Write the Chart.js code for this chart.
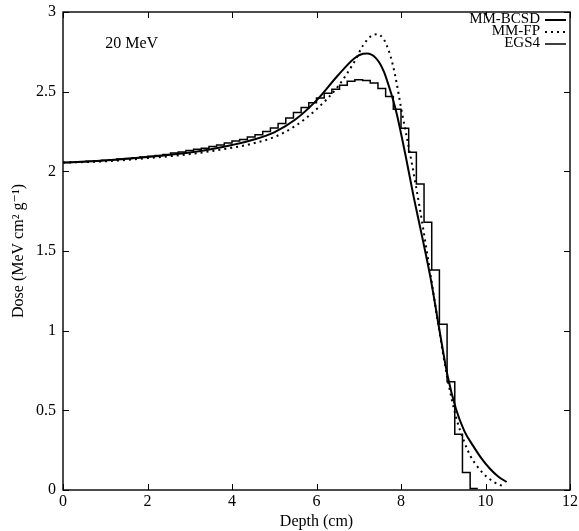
<!DOCTYPE html>
<html>
<head>
<meta charset="utf-8">
<script src="https://cdn.jsdelivr.net/npm/chart.js@4"></script>
<style>
  html, body { margin: 0; padding: 0; background: #fff; }
</style>
</head>
<body>
<canvas id="chart" width="579" height="531"></canvas>
<script>
// MM-BCSD (solid)
const depthBCSD = [0, 1, 2, 3, 3.5, 4, 4.5, 5, 5.5, 6, 6.5, 6.9, 7.1, 7.2, 7.3, 7.4, 7.5, 7.6, 7.7, 7.8, 7.9, 8.1, 8.3, 8.5, 8.7, 8.9, 9.1, 9.3, 9.5, 9.7, 9.9, 10.1, 10.3, 10.5];
const doseBCSD = [2.055, 2.068, 2.09, 2.118, 2.138, 2.165, 2.198, 2.245, 2.325, 2.445, 2.6, 2.71, 2.738, 2.74, 2.732, 2.712, 2.677, 2.622, 2.545, 2.46, 2.36, 2.11, 1.84, 1.59, 1.33, 1.02, 0.72, 0.51, 0.37, 0.28, 0.20, 0.135, 0.085, 0.05];

// MM-FP (dotted)
const depthFP = [0, 1, 2, 3, 4, 4.5, 5, 5.5, 6, 6.5, 6.9, 7.1, 7.3, 7.45, 7.6, 7.7, 7.8, 7.9, 8.0, 8.25, 8.45, 8.7, 8.9, 9.1, 9.3, 9.5, 9.65, 9.8, 10.0, 10.2, 10.45];
const doseFP = [2.055, 2.063, 2.083, 2.108, 2.148, 2.175, 2.215, 2.285, 2.39, 2.53, 2.69, 2.79, 2.85, 2.86, 2.825, 2.765, 2.675, 2.55, 2.40, 2.06, 1.76, 1.35, 1.01, 0.70, 0.46, 0.30, 0.21, 0.15, 0.09, 0.05, 0.02];

// EGS4 histogram, one value per depth bin
const egsBinWidth = 2 / 11;
const doseEGS4 = [
  2.055, 2.057, 2.06, 2.063, 2.066, 2.07, 2.073, 2.077, 2.08, 2.085,
  2.09, 2.095, 2.10, 2.106, 2.115, 2.121, 2.13, 2.138, 2.145, 2.156,
  2.165, 2.178, 2.19, 2.20, 2.216, 2.23, 2.25, 2.272, 2.30, 2.335,
  2.37, 2.40, 2.43, 2.46, 2.49, 2.515, 2.54, 2.565, 2.575, 2.57,
  2.555, 2.52, 2.47, 2.39, 2.27, 2.12, 1.92, 1.68, 1.38, 1.04,
  0.68, 0.35, 0.11, 0.01
];

const xTicks = [0, 2, 4, 6, 8, 10, 12];
const yTicks = [0, 0.5, 1, 1.5, 2, 2.5, 3];

const serif = '"Liberation Serif", "DejaVu Serif", serif';

const bcsdPoints = depthBCSD.map((d, i) => ({ x: d, y: doseBCSD[i] }));
const fpPoints = depthFP.map((d, i) => ({ x: d, y: doseFP[i] }));
const egsPoints = doseEGS4.map((v, i) => ({ x: i * egsBinWidth, y: v }));
egsPoints.push({ x: doseEGS4.length * egsBinWidth, y: doseEGS4[doseEGS4.length - 1] });

// frame, inward tick marks, legend and energy label
const decorations = {
  id: 'decorations',
  afterDatasetsDraw(chart) {
    const { ctx, chartArea: a, scales: { x, y } } = chart;
    ctx.save();
    ctx.strokeStyle = '#000';
    ctx.lineWidth = 1.4;
    ctx.strokeRect(a.left, a.top, a.right - a.left, a.bottom - a.top);

    ctx.lineWidth = 1;
    const len = 6;
    ctx.beginPath();
    xTicks.forEach(v => {
      const px = Math.round(x.getPixelForValue(v)) + 0.5;
      ctx.moveTo(px, a.bottom); ctx.lineTo(px, a.bottom - len);
      ctx.moveTo(px, a.top); ctx.lineTo(px, a.top + len);
    });
    yTicks.forEach(v => {
      const py = Math.round(y.getPixelForValue(v)) + 0.5;
      ctx.moveTo(a.left, py); ctx.lineTo(a.left + len, py);
      ctx.moveTo(a.right, py); ctx.lineTo(a.right - len, py);
    });
    ctx.stroke();

    // legend
    ctx.font = '15px ' + serif;
    ctx.fillStyle = '#000';
    ctx.textAlign = 'right';
    ctx.textBaseline = 'middle';
    const textRight = a.right - 30;
    chart.data.datasets.forEach((ds, i) => {
      const ly = a.top + 7 + i * 12;
      ctx.fillText(ds.label, textRight, ly);
      ctx.beginPath();
      ctx.lineWidth = ds.borderWidth;
      ctx.setLineDash(ds.borderDash || []);
      ctx.moveTo(textRight + 5, ly + 1);
      ctx.lineTo(a.right - 4, ly + 1);
      ctx.stroke();
    });
    ctx.setLineDash([]);

    ctx.textAlign = 'left';
    ctx.font = '16px ' + serif;
    ctx.fillText('20 MeV', x.getPixelForValue(1), y.getPixelForValue(2.8));
    ctx.restore();
  }
};

new Chart(document.getElementById('chart'), {
  type: 'line',
  data: {
    datasets: [
      {
        label: 'MM-BCSD',
        data: bcsdPoints,
        borderColor: '#000',
        borderWidth: 2,
        pointRadius: 0,
        fill: false,
        cubicInterpolationMode: 'monotone',
      },
      {
        label: 'MM-FP',
        data: fpPoints,
        borderColor: '#000',
        borderWidth: 2,
        borderDash: [2, 4],
        pointRadius: 0,
        fill: false,
        cubicInterpolationMode: 'monotone',
      },
      {
        label: 'EGS4',
        data: egsPoints,
        borderColor: '#000',
        borderWidth: 1.5,
        stepped: 'before',
        pointRadius: 0,
        fill: false,
      },
    ],
  },
  options: {
    responsive: false,
    animation: false,
    devicePixelRatio: 1,
    layout: { padding: { left: 0, right: 9, top: 12, bottom: 0 } },
    plugins: {
      legend: { display: false },
      tooltip: { enabled: false },
    },
    scales: {
      x: {
        type: 'linear',
        min: 0,
        max: 12,
        afterBuildTicks: s => { s.ticks = xTicks.map(v => ({ value: v })); },
        afterFit: s => { s.height = 41; s.paddingLeft = 0; s.paddingRight = 0; },
        ticks: { color: '#000', font: { family: serif, size: 16 }, padding: 2, maxRotation: 0, callback: v => String(v) },
        grid: { display: false, drawTicks: false },
        border: { display: false },
        title: { display: true, text: 'Depth (cm)', color: '#000', font: { family: serif, size: 16 }, padding: { top: -4, bottom: 0 } },
      },
      y: {
        min: 0,
        max: 3,
        afterBuildTicks: s => { s.ticks = yTicks.map(v => ({ value: v })); },
        afterFit: s => { s.width = 63; s.paddingTop = 0; s.paddingBottom = 0; },
        ticks: { color: '#000', font: { family: serif, size: 16 }, padding: 7, callback: v => String(v) },
        grid: { display: false, drawTicks: false },
        border: { display: false },
        title: { display: true, text: 'Dose (MeV cm\u00B2 g\u207B\u00B9)', color: '#000', font: { family: serif, size: 16 }, padding: { top: 9, bottom: 0 } },
      },
    },
  },
  plugins: [decorations],
});
</script>
</body>
</html>
